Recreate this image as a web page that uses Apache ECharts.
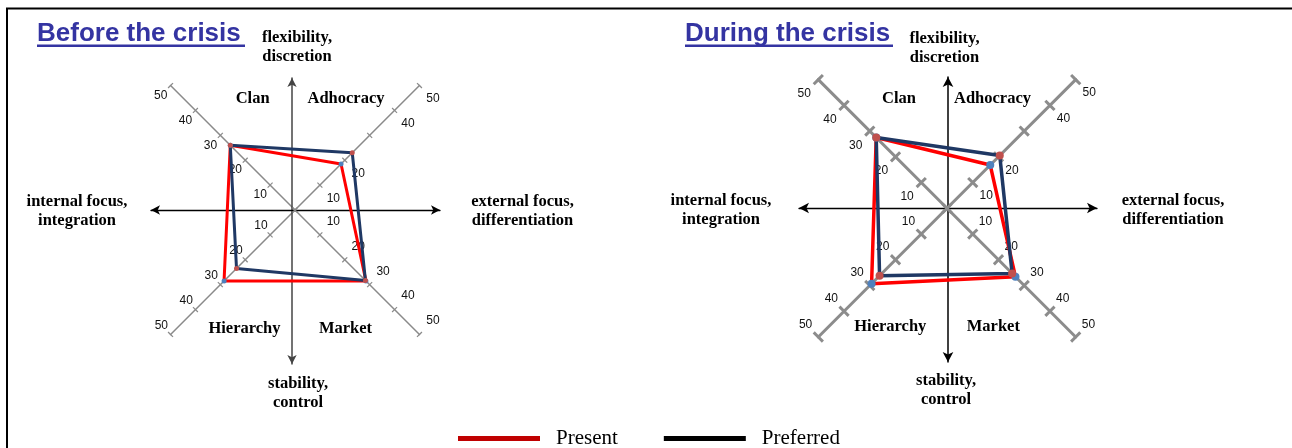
<!DOCTYPE html>
<html>
<head>
<meta charset="utf-8">
<script src="https://cdn.jsdelivr.net/npm/echarts@6/dist/echarts.min.js"></script>
<style>
  html, body { margin: 0; padding: 0; background: #fff; }
  #chart { width: 1292px; height: 448px; }
</style>
</head>
<body>
<div id="chart"></div>
<script>
// radar order, counter-clockwise starting upper-left
const quadrants = ['Clan', 'Hierarchy', 'Market', 'Adhocracy'];
const tickValues = [10, 20, 30, 40, 50];
const seriesNames = ['Present', 'Preferred'];
const titles = ['Before the crisis', 'During the crisis'];
const directions = ['flexibility,\ndiscretion', 'internal focus,\nintegration', 'stability,\ncontrol', 'external focus,\ndifferentiation'];

const beforePresent = [26, 28.5, 28.5, 18.5];
const beforePreferred = [26, 23.5, 28.3, 23];
const duringPresent = [27.5, 29.3, 26.6, 16.8];
const duringPreferred = [27.5, 26.2, 25.3, 20.5];

const chart = echarts.init(document.getElementById('chart'));

const panels = [
  {
    title: titles[0], present: beforePresent, preferred: beforePreferred,
    titleX: 37, center: [295, 210], radius: 176,
    axisColor: '#8a8a8a', axisWidth: 1.5, tickLen: 3.5, tickWidth: 1.2,
    lineWidth: 3, dot: 5,
    labelMargin: { Clan: 14, Hierarchy: -13, Market: 19, Adhocracy: -19 },
    grid: { left: 151, top: 78, width: 289, height: 286 }, xRange: [-141, 148], yRange: [-154, 132],
    vColor: '#444', arrowSize: [7, 9],
    dirPos: [[297, 47.5], [77, 211.5], [298, 393], [522.5, 211.5]],
    quadPos: { Clan: [252.6, 99], Adhocracy: [346, 99], Hierarchy: [244.5, 329], Market: [345.5, 329] }
  },
  {
    title: titles[1], present: duringPresent, preferred: duringPreferred,
    titleX: 685, center: [947, 208.3], radius: 182,
    axisColor: '#8c8c8c', axisWidth: 3, tickLen: 6.5, tickWidth: 3,
    lineWidth: 3.5, dot: 8,
    labelMargin: { Clan: 20, Hierarchy: -18, Market: 18, Adhocracy: -19 },
    grid: { left: 799, top: 77, width: 298, height: 285 }, xRange: [-149, 149], yRange: [-154, 131],
    vColor: '#000', arrowSize: [8, 10],
    dirPos: [[944.5, 48], [721, 210.3], [946, 390], [1173, 210.3]],
    quadPos: { Clan: [899, 98.3], Adhocracy: [992.5, 98.3], Hierarchy: [890.3, 326.7], Market: [993.3, 326.7] }
  }
];

// the picture leaves out the 30 on the Adhocracy diagonal
const hiddenLabels = { Adhocracy: [30] };

const startAngle = 135;
const radar = [];
const series = [];
const grid = [];
const xAxis = [];
const yAxis = [];
const title = [];
const graphic = [];

const labelFont = 'Liberation Sans';
const serifBold = 'bold 16.5px "Liberation Serif"';

panels.forEach((p, pi) => {
  // main radar: diagonal axes with ticks on one side
  const mainIndex = radar.length;
  radar.push({
    center: p.center,
    radius: p.radius,
    startAngle: startAngle,
    splitNumber: tickValues.length,
    indicator: quadrants.map(() => ({ name: '', min: 0, max: tickValues[tickValues.length - 1] })),
    axisName: { show: false },
    axisLine: { lineStyle: { color: p.axisColor, width: p.axisWidth } },
    axisTick: { show: true, length: p.tickLen, lineStyle: { color: p.axisColor, width: p.tickWidth } },
    axisLabel: { show: false },
    splitLine: { show: false },
    splitArea: { show: false }
  });

  // one radar per diagonal half: other side of ticks + tick labels
  quadrants.forEach((q, qi) => {
    const hidden = hiddenLabels[q] || [];
    radar.push({
      center: p.center,
      radius: p.radius,
      startAngle: startAngle + qi * 90,
      splitNumber: tickValues.length,
      indicator: [{ name: '', min: 0, max: tickValues[tickValues.length - 1] }],
      axisName: { show: false },
      axisLine: { show: false },
      axisTick: { show: true, length: -p.tickLen, lineStyle: { color: p.axisColor, width: p.tickWidth } },
      axisLabel: {
        show: true,
        showMinLabel: false,
        margin: p.labelMargin[q],
        align: 'center',
        verticalAlign: 'middle',
        color: '#111',
        fontFamily: labelFont,
        fontSize: 12,
        formatter: (v) => (tickValues.indexOf(v) >= 0 && hidden.indexOf(v) < 0 ? String(v) : '')
      },
      splitLine: { show: false },
      splitArea: { show: false }
    });
  });

  series.push({
    type: 'radar',
    radarIndex: mainIndex,
    symbol: 'circle',
    symbolSize: p.dot,
    z: 5,
    data: [
      {
        name: seriesNames[0], value: p.present,
        lineStyle: { color: '#ff0000', width: p.lineWidth },
        itemStyle: { color: '#4f81bd' }
      },
      {
        name: seriesNames[1], value: p.preferred,
        lineStyle: { color: '#1f3864', width: p.lineWidth },
        itemStyle: { color: '#c0504d' }
      }
    ]
  });

  // cross arrows
  grid.push(p.grid);
  xAxis.push({
    gridIndex: pi, type: 'value', min: p.xRange[0], max: p.xRange[1],
    axisLine: { onZero: true, symbol: ['arrow', 'arrow'], symbolSize: p.arrowSize, lineStyle: { color: '#000', width: 1.3 } },
    axisTick: { show: false }, axisLabel: { show: false }, splitLine: { show: false }
  });
  yAxis.push({
    gridIndex: pi, type: 'value', min: p.yRange[0], max: p.yRange[1],
    axisLine: { onZero: true, symbol: ['arrow', 'arrow'], symbolSize: p.arrowSize, lineStyle: { color: p.vColor, width: 1.5 } },
    axisTick: { show: false }, axisLabel: { show: false }, splitLine: { show: false }
  });

  title.push({
    text: p.title, left: p.titleX, top: 21, padding: 0,
    textStyle: { fontFamily: 'Liberation Sans', fontWeight: 'bold', fontSize: 26, color: '#3434a2' }
  });
  graphic.push({
    type: 'rect', shape: { x: p.titleX, y: 44.5, width: 208, height: 2.5 },
    style: { fill: '#3434a2' }, silent: true
  });

  directions.forEach((d, di) => {
    graphic.push({
      type: 'text', x: p.dirPos[di][0], y: p.dirPos[di][1], silent: true,
      style: { text: d, font: serifBold, align: 'center', verticalAlign: 'middle', lineHeight: 19, fill: '#000' }
    });
  });
  quadrants.forEach((q) => {
    graphic.push({
      type: 'text', x: p.quadPos[q][0], y: p.quadPos[q][1], silent: true,
      style: { text: q, font: serifBold, align: 'center', verticalAlign: 'middle', fill: '#000' }
    });
  });
});

// frame
graphic.push({
  type: 'polyline', silent: true,
  shape: { points: [[7, 448], [7, 8.5], [1292, 8.5]] },
  style: { stroke: '#000', lineWidth: 2, fill: null }
});

chart.setOption({
  animation: false,
  backgroundColor: '#fff',
  title: title,
  legend: {
    left: 458, top: 428, padding: 0,
    icon: 'rect', itemWidth: 82, itemHeight: 5, itemGap: 46,
    data: [
      { name: seriesNames[0], itemStyle: { color: '#c00000' } },
      { name: seriesNames[1], itemStyle: { color: '#000' } }
    ],
    textStyle: { fontFamily: 'Liberation Serif', fontSize: 21, color: '#000', padding: [0, 0, 0, 11] }
  },
  radar: radar,
  grid: grid,
  xAxis: xAxis,
  yAxis: yAxis,
  graphic: graphic,
  series: series
});
</script>
</body>
</html>
